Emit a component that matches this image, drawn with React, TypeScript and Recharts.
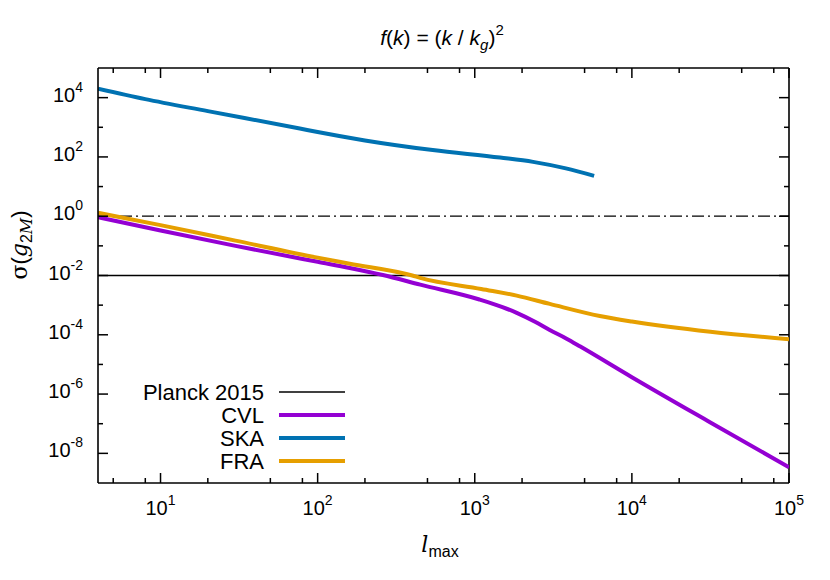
import { LineChart, Line, XAxis, YAxis, ReferenceLine } from "recharts"

// multipole cut-off l_max and forecast error sigma(g_2M)
const CVL_L = [4, 10, 30, 100, 160, 260, 450, 1070, 1500, 1850, 2400, 3000, 3840, 4700, 10000, 31600, 100000]
const CVL_SIGMA = [0.92, 0.33, 0.1, 0.029, 0.018, 0.0104, 4.9e-3, 1.55e-3, 8.6e-4, 5.5e-4, 2.8e-4, 1.45e-4, 7.4e-5, 4.0e-5, 3.7e-6, 1.1e-7, 3.4e-9]

const SKA_L = [4, 8, 20, 77, 100, 200, 540, 1450, 2350, 3800, 5750]
const SKA_SIGMA = [2.0e4, 8.9e3, 3.5e3, 910, 690, 360, 170, 95, 68, 41, 23]

const FRA_L = [4, 10, 30, 100, 160, 400, 450, 1100, 1850, 3000, 6250, 10000, 31600, 100000]
const FRA_SIGMA = [1.3, 0.5, 0.15, 0.04, 0.025, 0.01, 8.3e-3, 3.5e-3, 2.1e-3, 1.1e-3, 4.3e-4, 2.8e-4, 1.26e-4, 7.1e-5]

const PLANCK_2015 = 0.01
const UNITY = 1

const X_MAJOR = [10, 100, 1000, 10000, 100000]
const X_MINOR = [5, 8, 20, 50, 80, 200, 500, 800, 2000, 5000, 8000, 20000, 50000, 80000]
const Y_MAJOR = [1e-8, 1e-6, 1e-4, 1e-2, 1, 1e2, 1e4]
const Y_MINOR = [1e-7, 1e-5, 1e-3, 1e-1, 10, 1e3]

const SERIES = [
  { name: "CVL", color: "#9400d3", l: CVL_L, sigma: CVL_SIGMA },
  { name: "SKA", color: "#0072b2", l: SKA_L, sigma: SKA_SIGMA },
  { name: "FRA", color: "#e69f00", l: FRA_L, sigma: FRA_SIGMA },
]

const FONT = "'Liberation Sans', Arial, Helvetica, sans-serif"
const SERIF = "'DejaVu Serif', 'Liberation Serif', serif"
const X_DOMAIN = [4, 100000]
const Y_DOMAIN = [1e-9, 1e5]
const X_TICKS = [...X_MAJOR, ...X_MINOR].sort((a, b) => a - b)
const Y_TICKS = [...Y_MAJOR, ...Y_MINOR].sort((a, b) => a - b)

// plot frame (chart margins + axis sizes)
const TOP = 68
const BOTTOM = 483
const LEFT = 98
const RIGHT = 789

const toRows = (l: number[], s: number[]) => l.map((v, i) => ({ l: v, sigma: s[i] }))
const exponent = (v: number) => Math.round(Math.log10(v))

function XTick({ x, payload }: any) {
  const major = X_MAJOR.includes(payload.value)
  const len = major ? 10 : 5
  return (
    <g>
      <line x1={x} x2={x} y1={BOTTOM} y2={BOTTOM - len} stroke="#000" strokeWidth={1.5} />
      <line x1={x} x2={x} y1={TOP} y2={TOP + len} stroke="#000" strokeWidth={1.5} />
      {major && (
        <text x={x} y={BOTTOM + 32} textAnchor="middle" fontFamily={FONT} fontSize={20} fill="#000">
          10<tspan fontSize={14} dy={-10}>{exponent(payload.value)}</tspan>
        </text>
      )}
    </g>
  )
}

function YTick({ y, payload }: any) {
  const major = Y_MAJOR.includes(payload.value)
  const len = major ? 10 : 5
  return (
    <g>
      <line x1={LEFT} x2={LEFT + len} y1={y} y2={y} stroke="#000" strokeWidth={1.5} />
      <line x1={RIGHT} x2={RIGHT - len} y1={y} y2={y} stroke="#000" strokeWidth={1.5} />
      {major && (
        <text x={LEFT - 15} y={y + 4} textAnchor="end" fontFamily={FONT} fontSize={20} fill="#000">
          10<tspan fontSize={14} dy={-10}>{exponent(payload.value)}</tspan>
        </text>
      )}
    </g>
  )
}

export default function App() {
  return (
    <div style={{ position: "absolute", left: 0, top: 0, width: 830, height: 580, background: "#fff" }}>
      <LineChart width={830} height={580} margin={{ top: TOP, right: 830 - RIGHT, bottom: 37, left: 8 }}>
        <XAxis
          type="number"
          dataKey="l"
          scale="log"
          domain={X_DOMAIN}
          allowDataOverflow
          ticks={X_TICKS}
          interval={0}
          tick={XTick}
          tickLine={false}
          height={60}
          axisLine={{ stroke: "#000", strokeWidth: 1.6 }}
        />
        <YAxis
          type="number"
          scale="log"
          domain={Y_DOMAIN}
          allowDataOverflow
          ticks={Y_TICKS}
          interval={0}
          tick={YTick}
          tickLine={false}
          width={90}
          axisLine={{ stroke: "#000", strokeWidth: 1.6 }}
        />
        <ReferenceLine y={Y_DOMAIN[1]} stroke="#000" strokeWidth={1.6} />
        <ReferenceLine x={X_DOMAIN[1]} stroke="#000" strokeWidth={1.6} />
        <ReferenceLine y={UNITY} stroke="#000" strokeWidth={1.2} strokeDasharray="12 4 2 4" />
        <ReferenceLine y={PLANCK_2015} stroke="#000" strokeWidth={1.5} />
        {SERIES.map((s) => (
          <Line
            key={s.name}
            data={toRows(s.l, s.sigma)}
            dataKey="sigma"
            type="monotone"
            stroke={s.color}
            strokeWidth={4}
            dot={false}
            isAnimationActive={false}
          />
        ))}
      </LineChart>
      <svg width={830} height={580} style={{ position: "absolute", left: 0, top: 0, pointerEvents: "none" }}>
        <text x={442} y={45} textAnchor="middle" fontFamily={FONT} fontSize={21} fill="#000">
          <tspan fontStyle="italic">f</tspan>(<tspan fontStyle="italic">k</tspan>) = (<tspan fontStyle="italic">k</tspan> /{" "}
          <tspan fontStyle="italic">k</tspan>
          <tspan fontStyle="italic" fontSize={15} dy={5}>g</tspan>
          <tspan dy={-5}>)</tspan>
          <tspan fontSize={15} dy={-10}>2</tspan>
        </text>
        <text x={440} y={552} textAnchor="middle" fontFamily={FONT} fontSize={22} fill="#000">
          <tspan fontStyle="italic" fontFamily={SERIF}>l</tspan>
          <tspan fontSize={16} dy={5}>max</tspan>
        </text>
        <text transform="translate(27,245) rotate(-90)" textAnchor="middle" fontFamily={FONT} fontSize={22} fill="#000">
          <tspan fontFamily={SERIF}>σ</tspan>(<tspan fontStyle="italic" fontFamily={SERIF}>g</tspan>
          <tspan fontSize={16} dy={5}>2</tspan>
          <tspan fontSize={16} fontStyle="italic" fontFamily={SERIF}>M</tspan>
          <tspan dy={-5}>)</tspan>
        </text>
        {[{ name: "Planck 2015", color: "#000", w: 1.5 }, ...SERIES.map((s) => ({ name: s.name, color: s.color, w: 4 }))].map(
          (item, i) => (
            <g key={item.name}>
              <text x={264} y={392 + i * 23 + 8} textAnchor="end" fontFamily={FONT} fontSize={22} fill="#000">
                {item.name}
              </text>
              <line x1={279} x2={345} y1={392 + i * 23} y2={392 + i * 23} stroke={item.color} strokeWidth={item.w} />
            </g>
          )
        )}
      </svg>
    </div>
  )
}
